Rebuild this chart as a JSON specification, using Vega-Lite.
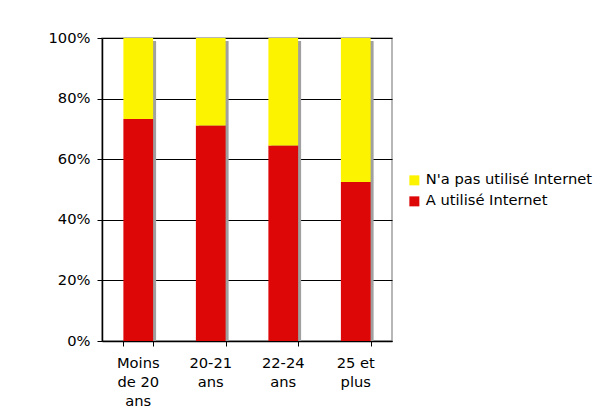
{
  "$schema": "https://vega.github.io/schema/vega-lite/v6.json",
  "width": 290,
  "height": 303,
  "autosize": "none",
  "padding": {"left": 102, "top": 38, "right": 203, "bottom": 78},
  "background": "white",
  "config": {
    "font": "DejaVu Sans",
    "view": {"stroke": "#a0a0a0", "strokeWidth": 1.5}
  },
  "data": {
    "values": [
      {"age": "Moins de 20 ans", "statut": "A utilisé Internet", "part": 0.733},
      {"age": "Moins de 20 ans", "statut": "N'a pas utilisé Internet", "part": 0.267},
      {"age": "20-21 ans", "statut": "A utilisé Internet", "part": 0.711},
      {"age": "20-21 ans", "statut": "N'a pas utilisé Internet", "part": 0.289},
      {"age": "22-24 ans", "statut": "A utilisé Internet", "part": 0.645},
      {"age": "22-24 ans", "statut": "N'a pas utilisé Internet", "part": 0.355},
      {"age": "25 et plus", "statut": "A utilisé Internet", "part": 0.525},
      {"age": "25 et plus", "statut": "N'a pas utilisé Internet", "part": 0.475}
    ]
  },
  "resolve": {"axis": {"x": "independent"}},
  "layer": [
    {
      "mark": {"type": "bar", "color": "#a0a0a0", "xOffset": 3, "yOffset": 3},
      "encoding": {
        "x": {
          "field": "age",
          "type": "nominal",
          "sort": ["Moins de 20 ans", "20-21 ans", "22-24 ans", "25 et plus"],
          "scale": {"paddingInner": 0.59, "paddingOuter": 0.295},
          "axis": {
            "orient": "bottom",
            "title": null,
            "labelAngle": 0,
            "labelFontSize": 14.7,
            "labelColor": "#000",
            "labelPadding": 9,
            "labelBaseline": "top",
            "labelLineHeight": 19,
            "labelExpr": "datum.value == 'Moins de 20 ans' ? ['Moins', 'de 20', 'ans'] : datum.value == '20-21 ans' ? ['20-21', 'ans'] : datum.value == '22-24 ans' ? ['22-24', 'ans'] : ['25 et', 'plus']",
            "ticks": true,
            "tickSize": 5,
            "tickOpacity": 0,
            "domain": false,
            "grid": false
          }
        },
        "y": {"aggregate": "sum", "field": "part", "type": "quantitative", "stack": null, "scale": {"domain": [0, 1], "nice": false}}
      }
    },
    {
      "mark": {"type": "bar"},
      "encoding": {
        "x": {
          "field": "age",
          "type": "nominal",
          "sort": ["Moins de 20 ans", "20-21 ans", "22-24 ans", "25 et plus"],
          "scale": {"paddingInner": 0.59, "paddingOuter": 0.295},
          "axis": {
            "orient": "bottom",
            "title": null,
            "labels": false,
            "tickBand": "extent",
            "tickSize": 5,
            "tickColor": "#000",
            "domainColor": "#000",
            "domainWidth": 1.5,
            "grid": false
          }
        },
        "y": {
          "field": "part",
          "type": "quantitative",
          "stack": "zero",
          "scale": {"domain": [0, 1], "nice": false},
          "axis": {
            "title": null,
            "format": ".0%",
            "values": [0, 0.2, 0.4, 0.6, 0.8, 1],
            "labelFontSize": 14.7,
            "labelColor": "#000",
            "labelPadding": 7,
            "tickSize": 5,
            "tickColor": "#000",
            "domainColor": "#000",
            "domainWidth": 1.5,
            "grid": true,
            "gridColor": "#000",
            "gridWidth": 1
          }
        },
        "color": {
          "field": "statut",
          "type": "nominal",
          "scale": {"domain": ["N'a pas utilisé Internet", "A utilisé Internet"], "range": ["#fcf300", "#de0707"]},
          "legend": {
            "title": null,
            "orient": "none",
            "legendX": 305,
            "legendY": 135,
            "symbolType": "square",
            "symbolSize": 100,
            "symbolStrokeWidth": 0,
            "labelFontSize": 14.7,
            "labelLimit": 300,
            "labelColor": "#000",
            "labelOffset": 4,
            "rowPadding": 5
          }
        },
        "order": {"field": "statut", "sort": "ascending"}
      }
    }
  ]
}
